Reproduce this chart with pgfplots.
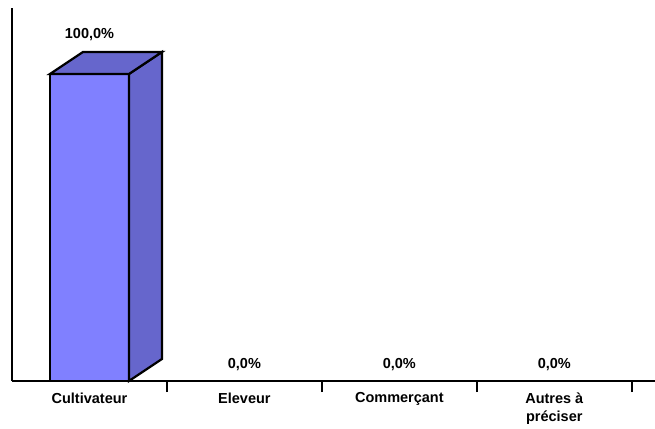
\documentclass[border=0pt]{standalone}
\usepackage{fontspec}
\setmainfont{Liberation Sans}
\usepackage{pgfplots}
\pgfplotsset{compat=1.18}
\definecolor{barfront}{RGB}{128,128,255}
\definecolor{barside}{RGB}{102,102,204}
\begin{document}
\begin{tikzpicture}
\begin{axis}[
    scale only axis,
    width=643pt, height=373pt,
    xmin=-0.5, xmax=3.65,
    ymin=0, ymax=121.5,
    axis x line=bottom, axis y line=left,
    axis line style={-, line width=2.2pt},
    ytick=\empty,
    xtick={0,1,2,3},
    xticklabels={Cultivateur, Eleveur, Commerçant, {Autres à\\préciser}},
    major tick length=0pt,
    minor xtick={0.5,1.5,2.5,3.5},
    minor tick length=11pt,
    tick align=outside,
    minor tick style={line width=2.2pt, black},
    xticklabel style={align=center, font=\fontsize{14.5}{18}\selectfont\bfseries, yshift=-8pt},
    clip=false,
]
% face avant
\addplot[fill=barfront, draw=black, line width=2.2pt, line join=miter] coordinates {(-0.255,0) (0.255,0) (0.255,100) (-0.255,100)} -- cycle;
% cote
\addplot[fill=barside, draw=black, line width=2.2pt, line join=miter] coordinates {(0.255,0) (0.468,7.17) (0.468,107.17) (0.255,100)} -- cycle;
% dessus
\addplot[fill=barside, draw=black, line width=2.2pt, line join=miter] coordinates {(-0.255,100) (0.255,100) (0.468,107.17) (-0.042,107.17)} -- cycle;
% etiquettes
\addplot[draw=none, mark=none, point meta=explicit symbolic,
    nodes near coords, nodes near coords align={center},
    every node near coord/.append style={font=\fontsize{14.5}{16}\selectfont\bfseries, anchor=center}]
    coordinates {(0,112.7) [100,0\%] (1,5.2) [0,0\%] (2,5.2) [0,0\%] (3,5.2) [0,0\%]};
\end{axis}
\pgfresetboundingbox
\path[use as bounding box] (-12pt,-47pt) rectangle (643pt,381pt);
\end{tikzpicture}
\end{document}
